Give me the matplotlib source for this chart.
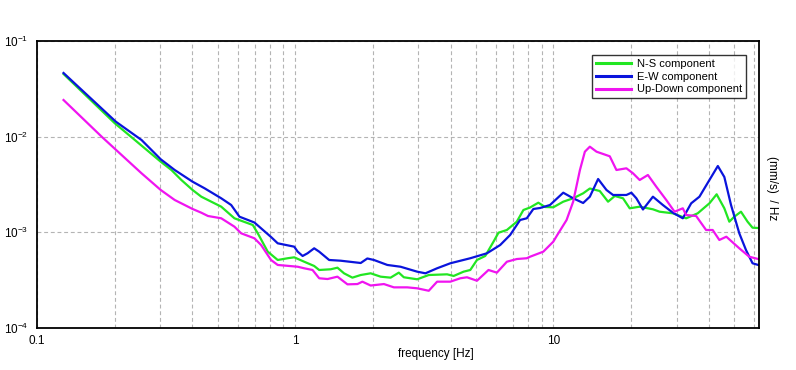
import matplotlib
matplotlib.use("Agg")
import matplotlib.pyplot as plt
from matplotlib.ticker import FixedLocator, NullFormatter, LogFormatterSciNotation, NullLocator

plt.rcParams['font.family'] = ['Liberation Sans', 'DejaVu Sans']
plt.rcParams['mathtext.fontset'] = 'custom'
plt.rcParams['mathtext.rm'] = 'Liberation Sans'

ns_freq = [0.1267, 0.2002, 0.2393, 0.3014, 0.3315, 0.3623, 0.4004, 0.4328, 0.4729, 0.5169,
           0.5815, 0.6850, 0.7160, 0.7825, 0.8553, 0.9347, 0.991, 1.083, 1.184, 1.238,
           1.373, 1.457, 1.545, 1.665, 1.793, 1.959, 2.141, 2.340, 2.518, 2.634,
           2.966, 3.289, 3.873, 4.107, 4.487, 4.763, 5.055, 5.441, 5.858, 6.124,
           6.600, 7.211, 7.648, 8.115, 8.737, 9.274, 9.982, 10.91, 11.92, 13.03,
           13.83, 15.11, 16.27, 17.28, 18.59, 19.73, 21.57, 24.27, 25.76, 28.99,
           32.65, 36.19, 40.17, 42.84, 45.88, 47.97, 50.15, 53.22, 56.44, 59.00, 62.07]
ns_psd = [0.04519, 0.01379, 0.009230, 0.005473, 0.004483, 0.003524, 0.002771, 0.002358, 0.002091, 0.001854,
          0.001402, 0.001193, 0.000977, 0.000628, 0.000514, 0.000536, 0.000548, 0.000493, 0.000445, 0.000404,
          0.000411, 0.000427, 0.000373, 0.000336, 0.000358, 0.000373, 0.000344, 0.000336, 0.000379, 0.000339,
          0.000323, 0.000358, 0.000364, 0.000350, 0.000388, 0.000404, 0.000514, 0.000566, 0.000798, 0.000991,
          0.001058, 0.001292, 0.001712, 0.001818, 0.002041, 0.001840, 0.001827, 0.002091, 0.002269, 0.002558,
          0.002871, 0.002704, 0.002091, 0.002398, 0.002269, 0.001783, 0.001854, 0.001741, 0.001643, 0.001581,
          0.001402, 0.001581, 0.002011, 0.002498, 0.001783, 0.001292, 0.001457, 0.001643, 0.001292, 0.001118, 0.001110]

ew_freq = [0.1267, 0.2020, 0.2540, 0.3014, 0.3414, 0.4004, 0.4456, 0.5169, 0.5648, 0.6081,
           0.6949, 0.8058, 0.8553, 0.991, 1.022, 1.068, 1.116, 1.184, 1.238, 1.353,
           1.501, 1.793, 1.902, 2.017, 2.273, 2.557, 2.966, 3.193, 3.543, 3.988,
           4.763, 5.526, 6.218, 6.795, 7.426, 7.882, 8.358, 8.869, 9.694, 10.91,
           11.92, 13.03, 13.83, 14.89, 16.04, 17.01, 19.16, 20.03, 20.94, 22.21,
           24.27, 26.52, 28.99, 31.68, 34.14, 36.75, 40.17, 43.30, 45.88, 48.70,
           52.43, 55.65, 59.00, 62.07]
ew_psd = [0.04629, 0.01434, 0.009230, 0.005800, 0.004483, 0.003382, 0.002886, 0.002269, 0.001931, 0.001457,
          0.001267, 0.000894, 0.000768, 0.000708, 0.000628, 0.000566, 0.000604, 0.000681, 0.000628, 0.000514,
          0.000505, 0.000478, 0.000533, 0.000514, 0.000456, 0.000437, 0.000388, 0.000373, 0.000421, 0.000475,
          0.000536, 0.000604, 0.000737, 0.000938, 0.001346, 0.001402, 0.001754, 0.001796, 0.001931, 0.002596,
          0.002269, 0.002026, 0.002358, 0.003610, 0.002771, 0.002457, 0.002457, 0.002596, 0.002269, 0.001733,
          0.002358, 0.001931, 0.001604, 0.001402, 0.002011, 0.002358, 0.003524, 0.004935, 0.003789, 0.001931,
          0.000977, 0.000654, 0.000475, 0.000456]

ud_freq = [0.1267, 0.1780, 0.2126, 0.2540, 0.3014, 0.3414, 0.4004, 0.4328, 0.4592, 0.5169,
           0.5815, 0.6173, 0.6949, 0.7375, 0.8058, 0.8553, 1.022, 1.083, 1.167, 1.238,
           1.334, 1.457, 1.593, 1.741, 1.820, 1.959, 2.205, 2.410, 2.714, 2.966,
           3.289, 3.543, 3.988, 4.358, 4.625, 5.055, 5.603, 6.037, 6.600, 7.211,
           7.882, 8.115, 9.134, 9.982, 10.29, 11.24, 11.92, 12.66, 13.23, 13.83,
           14.68, 16.52, 17.53, 19.16, 20.32, 21.57, 23.21, 25.01, 27.34, 29.43,
           31.68, 32.65, 35.68, 38.99, 41.35, 43.88, 46.71, 52.43, 57.31, 62.07]
ud_psd = [0.02416, 0.009993, 0.006434, 0.004141, 0.002771, 0.002178, 0.001754, 0.001604, 0.001482, 0.001402,
          0.001146, 0.000977, 0.000866, 0.000737, 0.000514, 0.000456, 0.000437, 0.000421, 0.000404, 0.000331,
          0.000325, 0.000344, 0.000286, 0.000288, 0.000305, 0.000278, 0.000288, 0.000266, 0.000266, 0.000260,
          0.000245, 0.000305, 0.000305, 0.000331, 0.000339, 0.000312, 0.000404, 0.000379, 0.000493, 0.000526,
          0.000536, 0.000556, 0.000628, 0.000798, 0.000916, 0.001346, 0.002091, 0.004483, 0.006965, 0.007858,
          0.006965, 0.006235, 0.004483, 0.004670, 0.004141, 0.003524, 0.003975, 0.003000, 0.002178, 0.001643,
          0.001783, 0.001517, 0.001482, 0.001058, 0.001058, 0.000832, 0.000900, 0.000681, 0.000556, 0.000526]

series_labels = ['N-S component', 'E-W component', 'Up-Down component']
x_tick_values = [0.1, 1, 10]
x_tick_labels = ['0.1', '1', '10']

W, H = 796, 370
fig = plt.figure(figsize=(W / 100, H / 100), dpi=100)
fig.patch.set_facecolor('white')
ax = fig.add_axes([37 / W, (H - 328) / H, (759 - 37) / W, (328 - 41) / H])

colors = ['#22e622', '#0a14dc', '#f014f0']
for fr, ps, lab, c in zip([ns_freq, ew_freq, ud_freq], [ns_psd, ew_psd, ud_psd], series_labels, colors):
    ax.plot(fr, ps, color=c, lw=1.6, label=lab, solid_joinstyle='round')

ax.set_xscale('log')
ax.set_yscale('log')
ax.set_xlim(0.1, 62.5)
ax.set_ylim(1e-4, 1e-1)

ax.xaxis.set_major_locator(FixedLocator(x_tick_values))
ax.set_xticklabels(x_tick_labels)
minors = [m * d for d in (0.1, 1, 10) for m in range(2, 10) if m * d < 62.5]
ax.xaxis.set_minor_locator(FixedLocator(minors))
ax.xaxis.set_minor_formatter(NullFormatter())
ax.yaxis.set_major_locator(FixedLocator([1e-4, 1e-3, 1e-2, 1e-1]))
ax.yaxis.set_major_formatter(LogFormatterSciNotation())
ax.yaxis.set_minor_locator(NullLocator())

ax.tick_params(axis='both', which='both', length=0, labelsize=8.5, colors='black')
ax.tick_params(axis='x', pad=5)
ax.tick_params(axis='y', pad=6)

grid_kw = dict(color='#b4b4b4', linestyle=(0, (3.5, 2.5)), linewidth=0.8)
ax.grid(True, which='major', axis='both', **grid_kw)
ax.grid(True, which='minor', axis='x', **grid_kw)
ax.set_axisbelow(True)

for s in ax.spines.values():
    s.set_linewidth(1.3)
    s.set_color('black')

ax.text(0.5, -0.07, 'frequency [Hz]', transform=ax.transAxes, ha='left', va='top', fontsize=8.5)
fig.text(771.5 / W, 1 - 188 / H, '(mm/s)  / Hz', rotation=270, ha='center', va='center', fontsize=8.5)

leg = ax.legend(loc='upper right', bbox_to_anchor=((746 - 37) / (759 - 37), (328 - 55) / (328 - 41)),
                borderaxespad=0, fontsize=8, frameon=True, fancybox=False, handlelength=3.2,
                handletextpad=0.5, labelspacing=0.25, borderpad=0.35)
leg.get_frame().set_edgecolor('black')
leg.get_frame().set_linewidth(1.0)
for line in leg.get_lines():
    line.set_linewidth(2.2)

fig.savefig('out.png', dpi=100)
